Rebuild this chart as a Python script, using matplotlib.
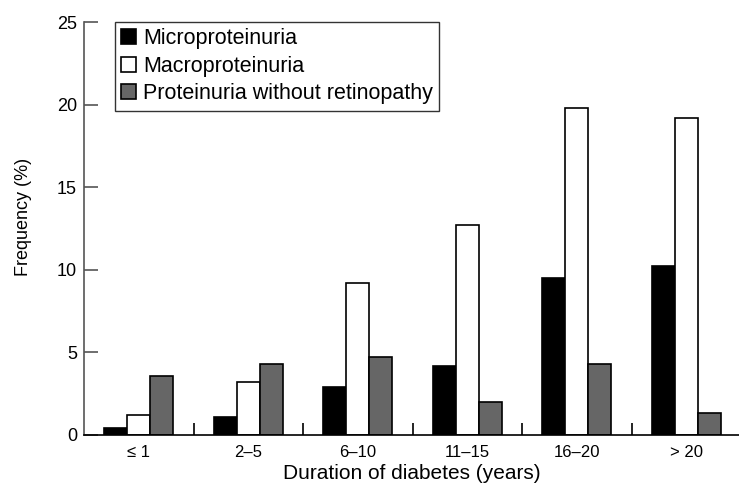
import numpy as np
import matplotlib.pyplot as plt

plt.rcParams['font.family'] = ['Liberation Sans', 'DejaVu Sans']

groups = ['\u2264 1', '2\u20135', '6\u201310', '11\u201315', '16\u201320', '> 20']
micro = [0.4, 1.1, 2.9, 4.2, 9.5, 10.2]
macro = [1.2, 3.2, 9.2, 12.7, 19.8, 19.2]
no_ret = [3.6, 4.3, 4.7, 2.0, 4.3, 1.35]

fig = plt.figure(figsize=(7.39, 4.87), dpi=100)
ax = fig.add_axes([0.1137, 0.1068, 0.8863, 0.848])

x = np.arange(len(groups))
w = 0.21
kw = dict(width=w, edgecolor='black', linewidth=1.2)
ax.bar(x - w, micro, color='black', label='Microproteinuria', **kw)
ax.bar(x, macro, color='white', label='Macroproteinuria', **kw)
ax.bar(x + w, no_ret, color='#666666', label='Proteinuria without retinopathy', **kw)

ax.set_xlim(-0.5, 5.48)
ax.set_ylim(0, 25)
ax.set_yticks([0, 5, 10, 15, 20, 25])
ax.set_xticks(x)
ax.set_xticklabels(groups)
ax.set_xticks(np.arange(0.5, 5, 1), minor=True)
ax.tick_params(axis='x', which='major', length=0, labelsize=12, pad=7)
ax.tick_params(axis='x', which='minor', direction='in', length=8.5, width=1.2, color='black')
ax.tick_params(axis='y', direction='in', length=10, width=1.2, color='#555555', labelsize=13, pad=5)

ax.spines['top'].set_visible(False)
ax.spines['right'].set_visible(False)
ax.spines['left'].set_color('#555555')
ax.spines['left'].set_linewidth(1.2)
ax.spines['bottom'].set_linewidth(1.2)

ax.set_xlabel('Duration of diabetes (years)', fontsize=15, labelpad=3)
ax.set_ylabel('Frequency (%)', fontsize=13)
ax.yaxis.set_label_coords(-0.079, 0.528)

leg = ax.legend(loc='upper left', bbox_to_anchor=(0.047, 1.0), fontsize=15.5,
                frameon=True, fancybox=False, edgecolor='black',
                handlelength=0.7, handleheight=0.7, handletextpad=0.3,
                labelspacing=0.3, borderpad=0.3, borderaxespad=0)
leg.get_frame().set_linewidth(1.0)

fig.savefig('out.png', dpi=100)
